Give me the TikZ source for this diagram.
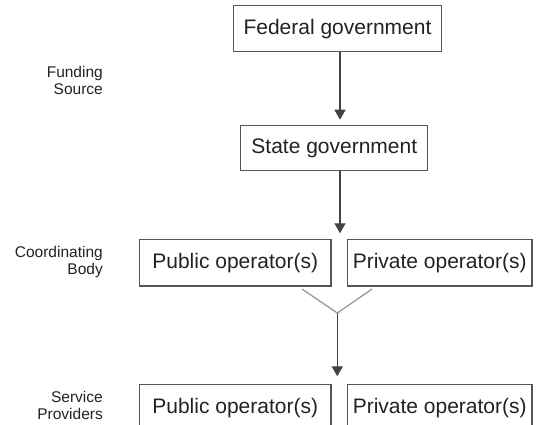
\documentclass[tikz,border=0pt]{standalone}
\usepackage{fontspec}
\setmainfont{Liberation Sans}
\usetikzlibrary{arrows.meta}
\definecolor{ink}{HTML}{222222}
\definecolor{frame}{HTML}{555555}
\definecolor{arm}{HTML}{9A9A9A}
\begin{document}
\begin{tikzpicture}[x=1pt,y=-1pt,
  box/.style={draw=frame,line width=1.2pt,text=ink,inner sep=0pt,
    font=\fontsize{21}{25}\selectfont},
  tier/.style={anchor=east,align=right,text=ink,inner sep=0pt,
    font=\fontsize{15.5}{17}\selectfont},
  arr/.style={draw=ink!85,line width=1.3pt,
    -{Triangle[width=11pt,length=10pt]}},
  armline/.style={draw=arm,line width=1.3pt}]
\useasboundingbox (0,0) rectangle (540,424);
\clip (0,0) rectangle (540,424);

% tier labels
\node[tier] (lfund) at (103,80) {Funding\\Source};
\node[tier] (lcoord) at (103,262) {Coordinating\\Body};
\node[tier] (lserv) at (103,405) {Service\\Providers};

% funding chain
\node[box,minimum width=208pt,minimum height=46pt] (fed) at (337.5,28.7) {Federal government};
\node[box,minimum width=187pt,minimum height=45pt] (state) at (334.3,148.2) {State government};

% coordinating row
\node[box,minimum width=191.7pt,minimum height=46.7pt] (pubc) at (235.2,262.6) {Public operator(s)};
\node[box,minimum width=184.7pt,minimum height=46.7pt] (privc) at (439.7,262.6) {Private operator(s)};

% service providers row
\node[box,minimum width=191.7pt,minimum height=46.7pt] (pubs) at (235.2,407.7) {Public operator(s)};
\node[box,minimum width=184.7pt,minimum height=46.7pt] (privs) at (439.7,407.7) {Private operator(s)};

% connector points
\coordinate (fedout) at (340,51.8);
\coordinate (statein) at (340,125.7);
\coordinate (stateout) at (340,170.7);
\coordinate (rowin) at (340,239.3);
\coordinate (yl) at (302,289);
\coordinate (yr) at (372,289);
\coordinate (yj) at (337.3,313);
\coordinate (rowtwo) at (337.3,384.3);

\draw[arr,shorten >=6pt] (fedout) -- (statein);
\draw[arr,shorten >=6pt] (stateout) -- (rowin);
\draw[armline] (yl) -- (yj) -- (yr);
\draw[arr,shorten >=8pt] (yj) -- (rowtwo);
\end{tikzpicture}
\end{document}
